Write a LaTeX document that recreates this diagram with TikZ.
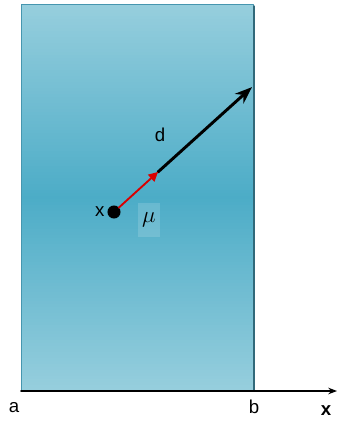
\documentclass[tikz,border=0pt]{standalone}
\usepackage{fontspec}
\setmainfont{Liberation Sans}
\usetikzlibrary{arrows.meta}

\definecolor{slabtop}{RGB}{150,206,221}
\definecolor{slabmid}{RGB}{76,172,199}
\definecolor{slabedge}{RGB}{70,150,175}

\begin{document}
\begin{tikzpicture}[x=0.75pt, y=-0.75pt, line cap=round, line join=round, >=Stealth,
	lbl/.style={font=\fontsize{14}{16}\selectfont, inner sep=1pt}]
	\useasboundingbox (0,0) rectangle (337,421);
	% slab
	\foreach \i in {0,...,128}{
		\pgfmathsetmacro{\mix}{100*abs(\i-64)/64}
		\fill[slabtop!\mix!slabmid] (21,{4+3*\i}) rectangle (253,{4+3*\i+3.4});
	}
	\draw[slabedge, line width=0.6pt] (21,4) rectangle (253,391);
	\draw[slabedge!70!black, line width=1pt] (254,6) -- (254,391);
	% axis
	\coordinate (a) at (21,391);
	\coordinate (b) at (253,391);
	\coordinate (xend) at (337,391);
	\draw[line width=1.3pt] (a) -- (b);
	\draw[->, line width=0.8pt] (b) -- (xend);
	\node[lbl] (alabel) at (14,408) {a};
	\node[lbl] (blabel) at (254,407) {b};
	\node[lbl, font=\fontsize{14}{16}\selectfont\bfseries] (xlabel) at (326,411) {x};
	% vector
	\node[circle, fill=black, draw=black, line width=0.8pt, inner sep=0pt, minimum size=9pt] (pos) at (114,212) {};
	\coordinate (dmid) at (158,172);
	\coordinate (dend) at (251,88);
	\draw[->, line width=2.2pt, shorten >=-1pt] (dmid) -- (dend);
	\draw[-{Triangle[length=7pt, width=7pt]}, red!85!black, line width=1.4pt] (pos) -- (dmid);
	% symbols
	\node[lbl] (dlabel) at (160,135) {d};
	\node[lbl, left=1pt] (xpos) at (pos.west) {x};
	\node[fill=white, fill opacity=0.15, text opacity=1, minimum width=17pt, minimum height=26pt, inner sep=0pt, font=\fontsize{17}{19}\selectfont] (mu) at (149,220) {$\mu$};
\end{tikzpicture}
\end{document}
